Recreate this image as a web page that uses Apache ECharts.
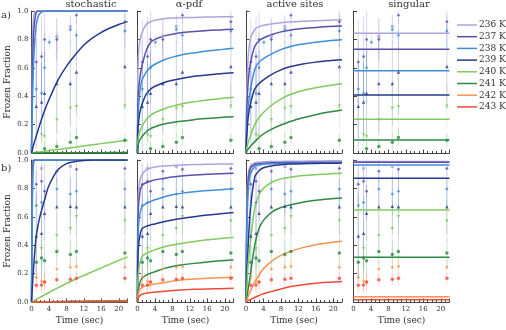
<!DOCTYPE html>
<html>
<head>
<meta charset="utf-8">
<script src="https://cdn.jsdelivr.net/npm/echarts@6/dist/echarts.min.js"></script>
<style>
html, body { margin: 0; padding: 0; background: #fff; }
#chart { width: 506px; height: 330px; }
</style>
</head>
<body>
<div id="chart"></div>
<script>
const temps = ['236 K', '237 K', '238 K', '239 K', '240 K', '241 K', '242 K', '243 K'];
const colors = ['#aba5dd', '#5a4fae', '#3f8fd8', '#27388c', '#80cb5e', '#2d8a44', '#f69450', '#ec4b3c'];
const panelTitles = ['stochastic', 'α-pdf', 'active sites', 'singular'];
const titleX = [91, 189, 295, 409];

// sample times of the fitted curves
const tStoch = [0, 0.25, 0.5, 1, 1.5, 2, 3, 4, 6, 8, 10, 12, 14, 16, 18, 20, 22];
const tFit = [0, 0.05, 0.2, 0.5, 1, 2, 3, 4, 6, 8, 10, 13, 16, 19, 22];

// row a) fits, one array per temperature (236..241 K)
const stochA = [
  [0, 0.8, 0.96, 1, 1, 1, 1, 1, 1, 1, 1, 1, 1, 1, 1, 1, 1],
  [0, 0.6, 0.85, 0.98, 1, 1, 1, 1, 1, 1, 1, 1, 1, 1, 1, 1, 1],
  [0, 0.4, 0.65, 0.88, 0.96, 0.985, 1, 1, 1, 1, 1, 1, 1, 1, 1, 1, 1],
  [0, 0.03, 0.06, 0.11, 0.16, 0.21, 0.3, 0.375, 0.51, 0.61, 0.69, 0.76, 0.81, 0.85, 0.88, 0.905, 0.925],
  [0, 0.001, 0.002, 0.004, 0.006, 0.008, 0.012, 0.017, 0.025, 0.033, 0.041, 0.05, 0.058, 0.066, 0.074, 0.082, 0.09],
  [0, 0, 0, 0, 0, 0, 0.001, 0.001, 0.001, 0.001, 0.002, 0.002, 0.002, 0.002, 0.003, 0.003, 0.003]
];
const apdfA = [
  [0, 0.5, 0.68, 0.78, 0.845, 0.905, 0.925, 0.935, 0.945, 0.95, 0.952, 0.955, 0.957, 0.959, 0.96],
  [0, 0.3, 0.42, 0.52, 0.61, 0.72, 0.78, 0.8, 0.824, 0.837, 0.847, 0.855, 0.862, 0.867, 0.872],
  [0, 0.2, 0.3, 0.42, 0.51, 0.57, 0.605, 0.625, 0.655, 0.675, 0.69, 0.705, 0.718, 0.728, 0.737],
  [0, 0.12, 0.2, 0.28, 0.34, 0.415, 0.45, 0.47, 0.495, 0.512, 0.525, 0.54, 0.55, 0.558, 0.565],
  [0, 0.07, 0.11, 0.15, 0.185, 0.235, 0.265, 0.285, 0.31, 0.33, 0.345, 0.36, 0.373, 0.383, 0.392],
  [0, 0.04, 0.065, 0.09, 0.115, 0.15, 0.172, 0.185, 0.204, 0.215, 0.224, 0.235, 0.243, 0.25, 0.256]
];
const activeA = [
  [0, 0.2, 0.45, 0.68, 0.8, 0.87, 0.89, 0.9, 0.91, 0.918, 0.923, 0.928, 0.932, 0.935, 0.938],
  [0, 0.1, 0.3, 0.5, 0.63, 0.75, 0.79, 0.81, 0.835, 0.853, 0.865, 0.876, 0.884, 0.89, 0.895],
  [0, 0.05, 0.17, 0.33, 0.44, 0.59, 0.64, 0.665, 0.7, 0.728, 0.748, 0.767, 0.78, 0.79, 0.797],
  [0, 0.04, 0.13, 0.25, 0.345, 0.45, 0.49, 0.515, 0.555, 0.585, 0.607, 0.627, 0.64, 0.649, 0.656],
  [0, 0.01, 0.035, 0.075, 0.12, 0.2, 0.25, 0.285, 0.34, 0.38, 0.41, 0.44, 0.46, 0.475, 0.487],
  [0, 0.003, 0.012, 0.028, 0.046, 0.08, 0.11, 0.135, 0.17, 0.197, 0.22, 0.248, 0.27, 0.288, 0.303]
];
const singA = [0.843, 0.73, 0.58, 0.408, 0.237, 0.092];

// row b) fits (236..243 K)
const stochB = [
  [0, 0.97, 1, 1, 1, 1, 1, 1, 1, 1, 1, 1, 1, 1, 1, 1, 1],
  [0, 0.92, 1, 1, 1, 1, 1, 1, 1, 1, 1, 1, 1, 1, 1, 1, 1],
  [0, 0.85, 0.98, 1, 1, 1, 1, 1, 1, 1, 1, 1, 1, 1, 1, 1, 1],
  [0, 0.13, 0.25, 0.44, 0.54, 0.61, 0.72, 0.82, 0.93, 0.975, 0.99, 0.997, 1, 1, 1, 1, 1],
  [0, 0.004, 0.008, 0.017, 0.025, 0.034, 0.05, 0.067, 0.099, 0.13, 0.16, 0.187, 0.214, 0.24, 0.267, 0.293, 0.318],
  [0, 0, 0, 0.001, 0.001, 0.001, 0.002, 0.002, 0.003, 0.004, 0.005, 0.006, 0.007, 0.007, 0.008, 0.009, 0.01],
  [0, 0, 0, 0, 0, 0.001, 0.001, 0.001, 0.002, 0.002, 0.002, 0.003, 0.003, 0.004, 0.004, 0.005, 0.005],
  [0, 0, 0, 0, 0, 0, 0, 0, 0.001, 0.001, 0.001, 0.001, 0.001, 0.002, 0.002, 0.002, 0.002]
];
const apdfB = [
  [0, 0.6, 0.76, 0.85, 0.894, 0.93, 0.943, 0.95, 0.957, 0.962, 0.965, 0.968, 0.97, 0.971, 0.972],
  [0, 0.5, 0.66, 0.76, 0.82, 0.84, 0.85, 0.86, 0.87, 0.88, 0.887, 0.894, 0.899, 0.903, 0.906],
  [0, 0.38, 0.52, 0.61, 0.67, 0.695, 0.708, 0.72, 0.74, 0.755, 0.765, 0.776, 0.785, 0.791, 0.797],
  [0, 0.27, 0.38, 0.46, 0.515, 0.533, 0.543, 0.55, 0.565, 0.578, 0.588, 0.601, 0.612, 0.621, 0.63],
  [0, 0.13, 0.2, 0.27, 0.318, 0.342, 0.356, 0.367, 0.387, 0.401, 0.412, 0.426, 0.438, 0.447, 0.456],
  [0, 0.05, 0.09, 0.13, 0.165, 0.19, 0.203, 0.213, 0.235, 0.25, 0.26, 0.272, 0.282, 0.29, 0.297],
  [0, 0.035, 0.06, 0.085, 0.102, 0.114, 0.121, 0.127, 0.136, 0.147, 0.155, 0.162, 0.167, 0.171, 0.175],
  [0, 0.018, 0.03, 0.044, 0.055, 0.062, 0.066, 0.07, 0.075, 0.081, 0.085, 0.089, 0.092, 0.094, 0.096]
];
const activeB = [
  [0, 0.3, 0.7, 0.9, 0.96, 0.98, 0.985, 0.988, 0.99, 0.99, 0.991, 0.992, 0.993, 0.994, 0.995],
  [0, 0.25, 0.6, 0.85, 0.94, 0.97, 0.975, 0.978, 0.98, 0.981, 0.982, 0.983, 0.984, 0.985, 0.985],
  [0, 0.2, 0.5, 0.78, 0.9, 0.955, 0.965, 0.97, 0.974, 0.976, 0.977, 0.978, 0.979, 0.98, 0.98],
  [0, 0.05, 0.2, 0.4, 0.65, 0.88, 0.925, 0.945, 0.96, 0.967, 0.971, 0.974, 0.976, 0.977, 0.978],
  [0, 0.02, 0.1, 0.27, 0.42, 0.66, 0.755, 0.8, 0.845, 0.867, 0.878, 0.89, 0.897, 0.902, 0.907],
  [0, 0.005, 0.03, 0.09, 0.19, 0.4, 0.52, 0.575, 0.635, 0.665, 0.683, 0.703, 0.716, 0.725, 0.732],
  [0, 0.003, 0.015, 0.04, 0.075, 0.14, 0.19, 0.235, 0.29, 0.328, 0.355, 0.383, 0.403, 0.417, 0.427],
  [0, 0.001, 0.004, 0.01, 0.017, 0.032, 0.046, 0.058, 0.075, 0.092, 0.107, 0.122, 0.132, 0.139, 0.145]
];
const singB = [0.99, 0.985, 0.965, 0.871, 0.648, 0.315, 0.037, 0.015];

// measured frozen fractions (null = no point) and error half widths
const tPts = [1.1, 2.3, 3.0, 4.1, 5.8, 8.9, 10.3, 21.4];
const ptsA = [
  [null, null, null, null, 0.82, 0.89, null, null],
  [0.64, 0.68, 0.8, null, 0.8, null, 0.97, 0.925],
  [0.45, 0.42, 0.6, 0.78, null, 0.87, 0.83, 0.86],
  [0.33, 0.36, 0.42, null, 0.49, 0.49, 0.57, 0.61],
  [null, 0.127, 0.115, null, 0.235, 0.315, 0.325, 0.33],
  [null, null, 0.03, null, 0.045, 0.075, 0.11, 0.09]
];
const errA = [
  [0, 0, 0, 0, 0.12, 0.08, 0, 0],
  [0.3, 0.28, 0.2, 0, 0.15, 0, 0.06, 0.08],
  [0.35, 0.3, 0.25, 0.05, 0, 0.1, 0.12, 0.12],
  [0.3, 0.28, 0.3, 0, 0.35, 0.3, 0.3, 0.3],
  [0, 0.1, 0.1, 0, 0.2, 0.2, 0.2, 0.15],
  [0, 0, 0.05, 0, 0.05, 0.06, 0.06, 0.05]
];
const ptsB = [
  [null, 0.94, null, null, null, 0.955, null, null],
  [0.83, 0.85, 0.78, null, 0.92, null, 0.935, 0.94],
  [0.68, 0.7, null, null, 0.795, 0.76, 0.78, 0.795],
  [0.465, 0.485, 0.625, null, 0.67, 0.675, 0.67, 0.67],
  [null, 0.375, null, null, 0.467, 0.515, 0.6, 0.57],
  [0.28, 0.31, 0.29, null, 0.355, 0.335, 0.355, 0.345],
  [0.175, 0.147, 0.14, null, 0.232, 0.244, 0.25, 0.245],
  [0.118, 0.12, 0.14, null, 0.156, 0.16, 0.167, 0.167]
];
const errB = [
  [0, 0.05, 0, 0, 0, 0.05, 0, 0],
  [0.15, 0.12, 0.2, 0, 0.08, 0.05, 0.06, 0.05],
  [0.25, 0.2, 0, 0, 0.12, 0.15, 0.15, 0.12],
  [0.3, 0.25, 0.2, 0, 0.2, 0.2, 0.2, 0.2],
  [0, 0.2, 0, 0, 0.15, 0.2, 0.15, 0.15],
  [0.12, 0.15, 0.12, 0, 0.1, 0.1, 0.1, 0.1],
  [0.08, 0.08, 0.08, 0, 0.06, 0.06, 0.06, 0.06],
  [0.05, 0.05, 0.05, 0, 0.04, 0.04, 0.04, 0.04]
];

const symbols = ['circle', 'diamond', 'diamond', 'triangle', 'path://M0,0L10,0L5,9Z', 'circle', 'diamond', 'circle'];
const serif = 'DejaVu Serif';
const axisColor = '#444';

const rows = [
  { fits: [stochA, apdfA, activeA, singA], pts: ptsA, err: errA },
  { fits: [stochB, apdfB, activeB, singB], pts: ptsB, err: errB }
];
const colLeft = [31.5, 137.5, 246, 353.5];
const rowTop = [11, 160];

const grids = [], xAxes = [], yAxes = [], series = [];

rows.forEach((row, r) => {
  for (let c = 0; c < 4; c++) {
    const g = r * 4 + c;
    grids.push({ left: colLeft[c], top: rowTop[r], width: 96, height: 142 });
    xAxes.push({
      gridIndex: g, type: 'value', min: 0, max: 22, interval: 4,
      name: r === 1 ? 'Time (sec)' : '', nameLocation: 'middle', nameGap: 14,
      nameTextStyle: { fontFamily: serif, fontSize: 9, color: '#333' },
      axisLine: { lineStyle: { color: axisColor } },
      axisTick: { inside: true, length: 3.5, lineStyle: { color: axisColor } },
      minorTick: { show: true, splitNumber: 4, length: 2, lineStyle: { color: axisColor } },
      axisLabel: { show: r === 1, fontFamily: serif, fontSize: 7, color: '#333', margin: 4,
        showMaxLabel: false },
      splitLine: { show: false }
    });
    yAxes.push({
      gridIndex: g, type: 'value', min: 0, max: 1, interval: 0.2,
      name: c === 0 ? 'Frozen Fraction' : '', nameLocation: 'middle', nameGap: 19,
      nameTextStyle: { fontFamily: serif, fontSize: 9, color: '#333' },
      axisLine: { show: true, lineStyle: { color: axisColor } },
      axisTick: { show: true, inside: true, length: 3.5, lineStyle: { color: axisColor } },
      axisLabel: { show: c === 0, fontFamily: serif, fontSize: 7, color: '#333', margin: 3,
        formatter: v => v.toFixed(1) },
      splitLine: { show: false }
    });

    const fit = row.fits[c];
    const nT = row.pts.length;
    for (let k = 0; k < nT; k++) {
      let data;
      if (c === 3) data = [[0, fit[k]], [22, fit[k]]];
      else {
        const ts = c === 0 ? tStoch : tFit;
        data = ts.map((t, i) => [t, fit[k][i]]);
      }
      series.push({
        type: 'line', name: temps[k], xAxisIndex: g, yAxisIndex: g,
        data: data, symbol: 'none', smooth: c === 3 ? false : 0.3,
        lineStyle: { color: colors[k], width: 1.5 }, itemStyle: { color: colors[k] },
        z: 3, silent: true
      });
    }
    for (let k = 0; k < nT; k++) {
      const bars = [], pts = [];
      row.pts[k].forEach((v, i) => {
        if (v === null) return;
        pts.push([tPts[i], v]);
        const e = row.err[k][i];
        if (e > 0) bars.push([tPts[i], Math.max(0, v - e), Math.min(1, v + e)]);
      });
      series.push({
        type: 'custom', xAxisIndex: g, yAxisIndex: g, data: bars, z: 2, silent: true,
        encode: { x: 0, y: [1, 2] },
        renderItem: (params, api) => {
          const p1 = api.coord([api.value(0), api.value(1)]);
          const p2 = api.coord([api.value(0), api.value(2)]);
          return { type: 'line', shape: { x1: p1[0], y1: p1[1], x2: p2[0], y2: p2[1] },
            style: { stroke: colors[k], lineWidth: 1, opacity: 0.22 } };
        }
      });
      series.push({
        type: 'scatter', xAxisIndex: g, yAxisIndex: g, data: pts, z: 4, silent: true,
        symbol: symbols[k], symbolSize: 3.5, itemStyle: { color: colors[k] }
      });
    }
  }
});

const graphics = panelTitles.map((t, i) => ({
  type: 'text', x: titleX[i], y: 4,
  style: { text: t, font: '10px "DejaVu Serif"', fill: '#333', textAlign: 'center', textVerticalAlign: 'middle' }
}));
graphics.push({ type: 'text', x: 1, y: 15, style: { text: 'a)', font: '10px "DejaVu Serif"', fill: '#333', textVerticalAlign: 'middle' } });
graphics.push({ type: 'text', x: 1, y: 168, style: { text: 'b)', font: '10px "DejaVu Serif"', fill: '#333', textVerticalAlign: 'middle' } });

const chart = echarts.init(document.getElementById('chart'), null, { renderer: 'canvas' });
chart.setOption({
  animation: false,
  backgroundColor: '#fff',
  grid: grids,
  xAxis: xAxes,
  yAxis: yAxes,
  legend: {
    data: temps.map(n => ({ name: n, icon: 'rect' })),
    orient: 'vertical', left: 457, top: 20, padding: 0,
    itemWidth: 20, itemHeight: 1.5, itemGap: 1.7,
    textStyle: { fontFamily: serif, fontSize: 9, color: '#333', lineHeight: 10, padding: [0, 0, 0, -3] }
  },
  graphic: graphics,
  series: series
});
</script>
</body>
</html>
